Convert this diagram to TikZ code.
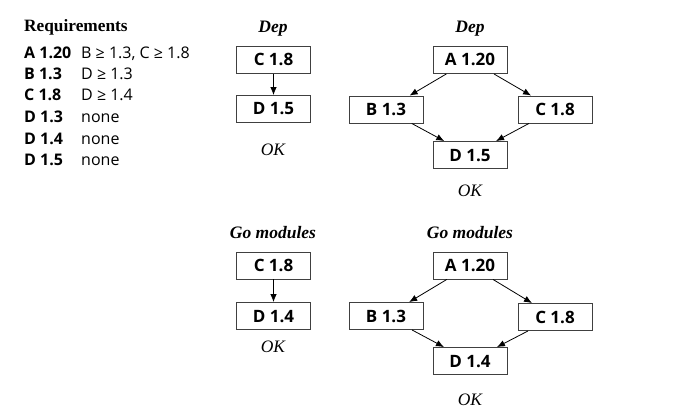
\documentclass[tikz,border=0pt]{standalone}
\usepackage{fontspec}
\setmainfont{Liberation Serif}
\setsansfont{Open Sans}
\usetikzlibrary{arrows.meta}

\begin{document}
\begin{tikzpicture}[x=1pt,y=-1pt,
    pkg/.style={draw=black!75, line width=0.9pt, minimum width=74pt, minimum height=27pt,
      inner sep=0pt, text height=12pt, text depth=0pt,
      font=\sffamily\bfseries\fontsize{17}{17}\selectfont},
    dep/.style={-{Latex[length=8pt,width=6.5pt]}, line width=0.8pt},
    ttl/.style={anchor=base, inner sep=0pt, font=\bfseries\itshape\fontsize{17.5}{17.5}\selectfont},
    ok/.style={anchor=base, inner sep=0pt, font=\itshape\fontsize{17.5}{17.5}\selectfont},
    req/.style={anchor=base west, inner sep=0pt, font=\sffamily\fontsize{16}{16}\selectfont}]
  \useasboundingbox (0,0) rectangle (673,420);

  % requirements list
  \node[anchor=base west, inner sep=0pt, font=\bfseries\fontsize{17.3}{17.3}\selectfont] (reqtitle) at (24,32) {Requirements};
  \node[req] (reqA) at (24,58.3) {\bfseries A 1.20};
  \node[req] (reqAd) at (81,58.3) {B ≥ 1.3, C ≥ 1.8};
  \node[req] (reqB) at (24,79.5) {\bfseries B 1.3};
  \node[req] (reqBd) at (81,79.5) {D ≥ 1.3};
  \node[req] (reqC) at (24,101) {\bfseries C 1.8};
  \node[req] (reqCd) at (81,101) {D ≥ 1.4};
  \node[req] (reqD3) at (24,122.5) {\bfseries D 1.3};
  \node[req] (reqD3d) at (81,122.5) {none};
  \node[req] (reqD4) at (24,144) {\bfseries D 1.4};
  \node[req] (reqD4d) at (81,144) {none};
  \node[req] (reqD5) at (24,165.7) {\bfseries D 1.5};
  \node[req] (reqD5d) at (81,165.7) {none};

  % Dep, starting at C
  \node[ttl] (depCtitle) at (273,33) {Dep};
  \node[pkg] (depC) at (273.5,60) {C 1.8};
  \node[pkg] (depCD) at (273.5,109) {D 1.5};
  \node[ok] (depCok) at (273,156) {OK};
  \draw[dep] (depC) -- (depCD);

  % Dep, starting at A
  \node[ttl] (depAtitle) at (470,33) {Dep};
  \node[pkg] (depA) at (470,60) {A 1.20};
  \node[pkg] (depAB) at (386,109.5) {B 1.3};
  \node[pkg] (depAC) at (555,109.5) {C 1.8};
  \node[pkg] (depAD) at (470,155) {D 1.5};
  \node[ok] (depAok) at (470,196.7) {OK};
  \draw[dep] (depA) -- (depAB);
  \draw[dep] (depA) -- (depAC);
  \draw[dep] (depAB) -- (depAD);
  \draw[dep] (depAC) -- (depAD);

  % Go modules, starting at C
  \node[ttl] (modCtitle) at (273,238.3) {Go modules};
  \node[pkg] (modC) at (273.5,265.5) {C 1.8};
  \node[pkg] (modCD) at (273.5,316) {D 1.4};
  \node[ok] (modCok) at (273,352.7) {OK};
  \draw[dep] (modC) -- (modCD);

  % Go modules, starting at A
  \node[ttl] (modAtitle) at (470,238.3) {Go modules};
  \node[pkg] (modA) at (470,265.5) {A 1.20};
  \node[pkg] (modAB) at (386,316) {B 1.3};
  \node[pkg] (modAC) at (555,317) {C 1.8};
  \node[pkg] (modAD) at (470,361) {D 1.4};
  \node[ok] (modAok) at (470,405.7) {OK};
  \draw[dep] (modA) -- (modAB);
  \draw[dep] (modA) -- (modAC);
  \draw[dep] (modAB) -- (modAD);
  \draw[dep] (modAC) -- (modAD);
\end{tikzpicture}
\end{document}
